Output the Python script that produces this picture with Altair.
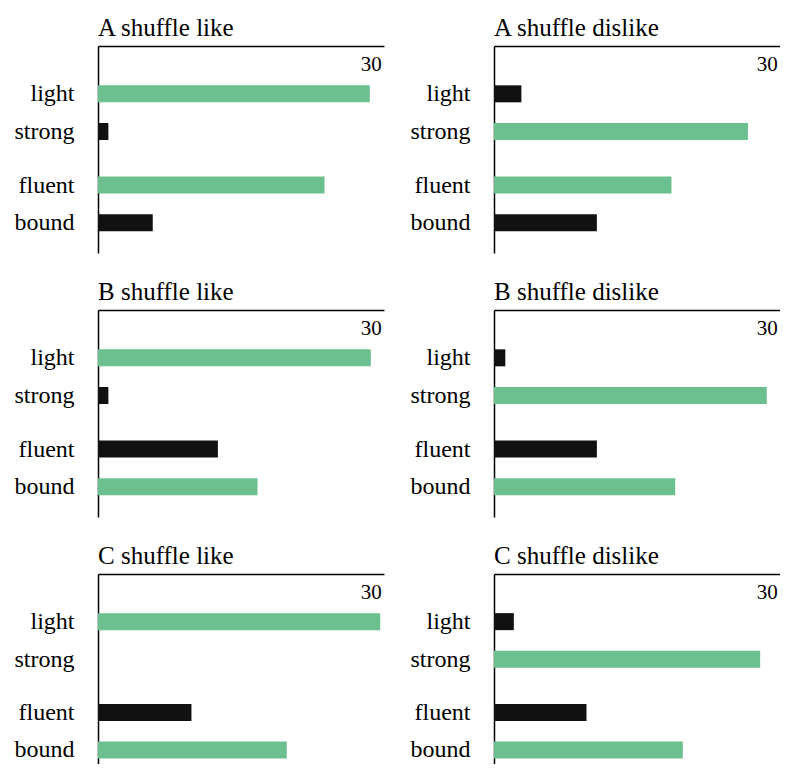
import altair as alt
import pandas as pd

# ---- data ----
categories = ["light", "strong", "fluent", "bound"]
panel_titles = [
    "A shuffle like", "A shuffle dislike",
    "B shuffle like", "B shuffle dislike",
    "C shuffle like", "C shuffle dislike",
]
a_like = [28.8, 1.1, 24.0, 5.8]
a_dislike = [2.9, 26.9, 18.8, 10.9]
b_like = [28.9, 1.1, 12.7, 16.9]
b_dislike = [1.2, 28.9, 10.9, 19.2]
c_like = [29.9, 0.0, 9.9, 20.0]
c_dislike = [2.1, 28.2, 9.8, 20.0]
series = [a_like, a_dislike, b_like, b_dislike, c_like, c_dislike]
axis_max_label = [30]

# ---- style / layout ----
GREEN = "#6cbf8f"
BLACK = "#111111"
FONT = "Liberation Serif"
UNIT = 39.6          # px per category slot
W = 286
TOP_GAP = 45         # px between top axis and first bar centre

# slot index with an extra gap between the two pairs
slot = {c: i + (0.42 if i >= 2 else 0.0) for i, c in enumerate(categories)}
slot_vals = [slot[c] for c in categories]

# label expression built from the categories
expr = f"'{categories[-1]}'"
for i in range(len(categories) - 2, -1, -1):
    mid = (slot_vals[i] + slot_vals[i + 1]) / 2
    expr = f"datum.value < {mid} ? '{categories[i]}' : ({expr})"


def panel(title, vals, h):
    rows = []
    for i, (c, v) in enumerate(zip(categories, vals)):
        partner = vals[i ^ 1]
        rows.append({
            "category": c,
            "value": v,
            "slot": slot[c],
            "kind": "dominant" if v >= partner else "minor",
        })
    df = pd.DataFrame(rows)
    ydom = [-TOP_GAP / UNIT, (h - TOP_GAP) / UNIT]
    return (
        alt.Chart(df)
        .mark_bar(orient="horizontal", size=17)
        .encode(
            x=alt.X(
                "value:Q",
                scale=alt.Scale(domain=[0, 30.3], nice=False, zero=True),
                axis=alt.Axis(
                    orient="top", values=axis_max_label, ticks=False, grid=False,
                    title=None, labelAlign="right", labelBaseline="top",
                    labelPadding=-7, labelFont=FONT, labelFontSize=21,
                    labelColor="black", domainColor="black", domainWidth=1.5,
                    labelFlush=False,
                ),
            ),
            y=alt.Y(
                "slot:Q",
                scale=alt.Scale(domain=ydom, reverse=True, nice=False, zero=False),
                axis=alt.Axis(
                    values=slot_vals, labelExpr=expr, ticks=False, grid=False,
                    title=None, labelPadding=24, labelFont=FONT, labelFontSize=24,
                    labelColor="black", domainColor="black", domainWidth=1.5,
                    labelOverlap=False,
                ),
            ),
            color=alt.Color(
                "kind:N",
                scale=alt.Scale(domain=["dominant", "minor"], range=[GREEN, BLACK]),
                legend=None,
            ),
        )
        .properties(
            width=W,
            height=h,
            title=alt.TitleParams(
                title, anchor="start", frame="group", font=FONT, fontSize=25,
                fontWeight="normal", color="black", offset=-15,
                baseline="alphabetic",
            ),
        )
    )


heights = [207, 207, 190]
rows = []
for r in range(3):
    left = panel(panel_titles[2 * r], series[2 * r], heights[r])
    right = panel(panel_titles[2 * r + 1], series[2 * r + 1], heights[r])
    rows.append(alt.hconcat(left, right, spacing=26))

chart = (
    alt.vconcat(*rows, spacing=27)
    .properties(padding={"left": 6, "top": 8, "right": 0, "bottom": 0})
    .configure_view(strokeWidth=0)
)

chart.save("out.html", embed_options={"renderer": "svg", "actions": False})
